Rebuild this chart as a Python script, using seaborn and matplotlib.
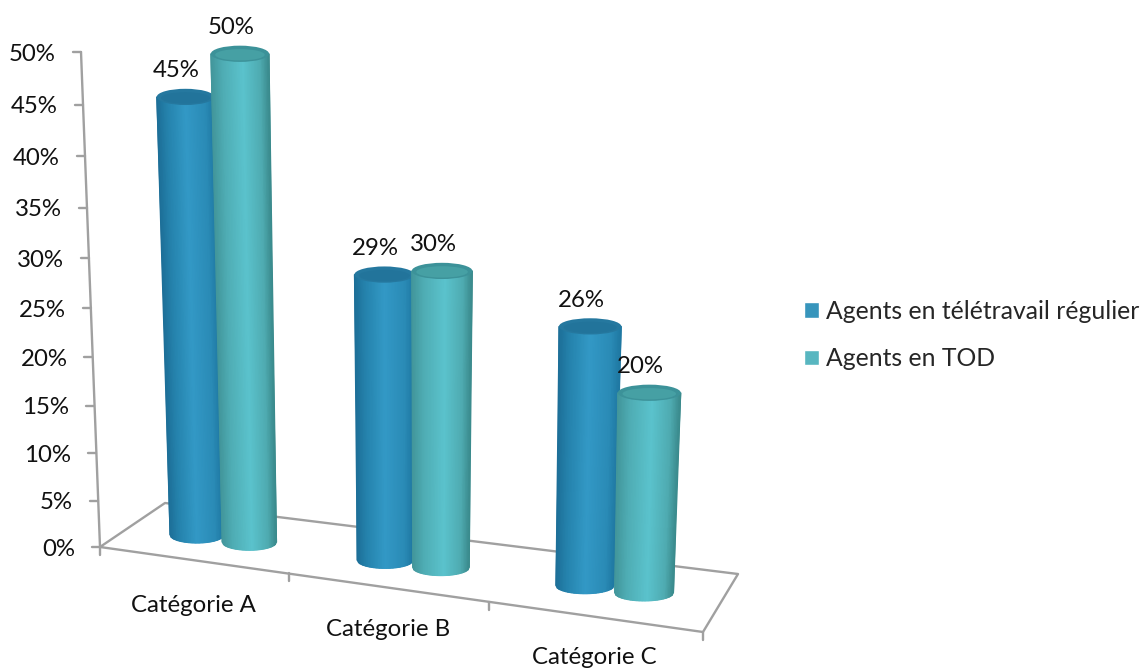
# 3D style cylinder chart: share of agents per category
import numpy as np
import pandas as pd
import matplotlib
matplotlib.use("Agg")
import matplotlib.pyplot as plt
from matplotlib.colors import LinearSegmentedColormap
from matplotlib.patches import Ellipse
import seaborn as sns

# 01- Data
categories = ["Catégorie A", "Catégorie B", "Catégorie C"]
series_names = ["Agents en télétravail régulier", "Agents en TOD"]
regulier = [45, 29, 26]
tod = [50, 30, 20]
y_ticks = [0, 5, 10, 15, 20, 25, 30, 35, 40, 45, 50]

data = pd.DataFrame({
    "position": list(range(len(categories))) * 2,
    "serie": [series_names[0]] * 3 + [series_names[1]] * 3,
    "valeur": regulier + tod,
})

# 02- Scene settings (picture size in px, scale of the flat axes)
W, H = 1143, 669
PX_X, PX_Y = 195.75, 9.9     # px per category, px per percent
X0, Y0 = 223, 547            # px of category 0 and of 0%
RY = 0.82                    # half height of the ellipses, in percent units

sns.set_theme(style="white")
plt.rcParams["font.family"] = ["Lato", "DejaVu Sans"]
FS = 17.3
FS_LEGEND = 17.8


def px(x, y):
    # picture pixels to data coordinates
    return (x - X0) / PX_X, (Y0 - y) / PX_Y


def floor_y(c):
    return 0.85 - 2.56 * c


def project(c, h):
    # point at height h above the floor at position c
    # spacing grows to the right and the verticals lean to a vanishing point
    x = 0.941 * c + 0.0294 * c ** 2 + h * (c - 0.98) * 0.00115
    y = floor_y(c) + h * (0.985 + 0.012 * c)
    return x, y


fig = plt.figure(figsize=(W / 100, H / 100), dpi=100)
ax = fig.add_axes([0, 0, 1, 1])

palette = {series_names[0]: "#3795BC", series_names[1]: "#58B6C0"}
sns.barplot(data=data, x="position", y="valeur", hue="serie", hue_order=series_names,
            native_scale=True, palette=palette, saturation=1, width=0.57, gap=0, ax=ax)

# 03- Frame: floor, walls, ticks
frame = dict(color="#A0A0A0", lw=1.7, zorder=1, solid_capstyle="round")
floor_px = [(100, 547), (703, 632), (738, 574), (165, 503), (100, 547)]
ax.plot(*zip(*[px(*p) for p in floor_px]), **frame)
ax.plot(*zip(*[px(*p) for p in [(100, 547), (81, 52)]]), **frame)


def tick_px(v):
    return 100 - 0.38 * v, 547 - (9.22 * v + 0.0136 * v ** 2)


for v in y_ticks:
    tx, ty = tick_px(v)
    ax.plot(*zip(px(tx - 8, ty), px(tx, ty)), **frame)
    lx, ly = px(tx - 25, ty + 2)
    ax.text(lx, ly, f"{v}%", ha="right", va="center", fontsize=FS, color="#111111")

for p in [(100, 547), (289, 573), (489, 602), (703, 632)]:
    ax.plot(*zip(px(*p), px(p[0], p[1] + 8)), **frame)

label_px = [(193, 605), (388, 629), (594, 657)]
for name, p in zip(categories, label_px):
    lx, ly = px(*p)
    ax.text(lx, ly, name, ha="center", va="center", fontsize=FS, color="#111111")

# 04- Cylinders built from the bars seaborn placed
shades = [
    LinearSegmentedColormap.from_list("bleu", [(0, "#1d6f98"), (0.18, "#2583ad"), (0.5, "#3399c6"),
                                               (0.85, "#2a8bb6"), (1, "#1f78a2")]),
    LinearSegmentedColormap.from_list("turq", [(0, "#42969b"), (0.2, "#4fadb4"), (0.55, "#5bc3cd"),
                                               (0.85, "#4fabb1"), (1, "#3a8a8c")]),
]
tops = ["#25789F", "#3C9299"]
inner_tops = ["#22749B", "#46A0A4"]
u = np.linspace(-1, 1, 41)

for s, container in enumerate(ax.containers):
    for bar in container:
        c = bar.get_x() + bar.get_width() / 2
        h = bar.get_height()
        hw = bar.get_width() / 2 * (0.97 + 0.04 * c)
        hw_top = hw * 1.07
        bar.set_visible(False)

        xb, yb = project(c, 0)
        xt, yt = project(c, h)

        X = np.vstack([xb + hw * u, xt + hw_top * u])
        Y = np.vstack([yb - RY * np.sqrt(1 - u ** 2), yt + 0 * u])
        C = np.vstack([(u + 1) / 2, (u + 1) / 2])
        ax.pcolormesh(X, Y, C, shading="gouraud", cmap=shades[s], vmin=0, vmax=1, zorder=3 + s)
        ax.add_patch(Ellipse((xt, yt), 2 * hw_top, 2 * RY, fc=tops[s], ec="none", zorder=3 + s))
        ax.add_patch(Ellipse((xt, yt - 0.1), 1.7 * hw_top, 1.4 * RY, fc=inner_tops[s], ec="none", zorder=3 + s))

        ax.annotate(f"{h:.0f}%", (xt, yt), xytext=(-9 * 0.72, 26 * 0.72),
                    textcoords="offset points", ha="center", va="center",
                    fontsize=FS, color="#111111", zorder=10)

# 05- Legend and limits
ax.set_xlim(-X0 / PX_X, (W - X0) / PX_X)
ax.set_ylim((Y0 - H) / PX_Y, Y0 / PX_Y)
ax.axis("off")
sns.move_legend(ax, loc="upper left", bbox_to_anchor=(804 / W, 1 - 300 / H), frameon=False,
                title=None, fontsize=FS_LEGEND, handlelength=0.6, handleheight=0.6,
                handletextpad=0.28, labelspacing=0.98, borderpad=0, borderaxespad=0)

fig.savefig("out.png", dpi=100, facecolor="white")
